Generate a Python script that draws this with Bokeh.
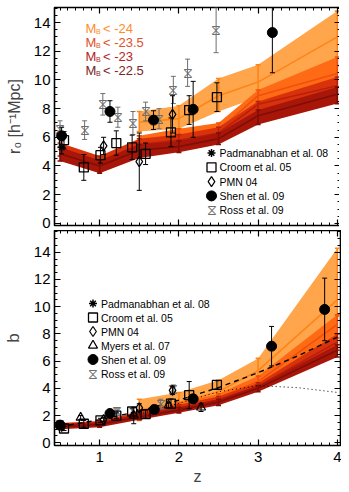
import numpy as np
from bokeh.plotting import figure
from bokeh.models import (Range1d, LinearAxis, Label, FixedTicker)
from bokeh.layouts import column
from bokeh.embed import file_html
from bokeh.resources import INLINE
from bokeh.core.properties import value

# ---------------- data : model bands (r0) ----------------
z_bright = [1.5, 2.0, 2.5, 3.0, 4.0]
z_faint = [0.5, 1.0, 1.5, 2.0, 2.5, 3.0, 4.0]

r0_m24_lo = [6.4, 6.6, 7.8, 8.8, 11.0]
r0_m24_mid = [7.05, 7.3, 8.9, 9.85, 13.0]
r0_m24_hi = [7.8, 8.2, 10.1, 11.05, 14.8]

r0_m235_lo = [5.2, 5.6, 6.0, 8.0, 9.5]
r0_m235_mid = [5.65, 6.1, 6.5, 8.9, 10.45]
r0_m235_hi = [6.1, 6.6, 7.0, 9.3, 11.6]

r0_m23_lo = [4.7, 3.75, 5.0, 5.35, 5.9, 7.6, 9.0]
r0_m23_mid = [5.2, 4.25, 5.5, 5.8, 6.3, 8.3, 9.6]
r0_m23_hi = [5.6, 4.7, 5.9, 6.2, 6.7, 8.5, 10.2]

r0_m225_lo = [4.35, 3.5, 4.55, 4.95, 5.5, 6.9, 8.35]
r0_m225_mid = [4.85, 4.0, 5.1, 5.35, 5.9, 7.5, 9.0]
r0_m225_hi = [5.3, 4.4, 5.5, 5.75, 6.3, 7.9, 9.5]

# ---------------- data : model bands (b) ----------------
b_m24_lo = [1.65, 2.5, 3.0, 4.5, 9.3]
b_m24_mid = [2.4, 2.95, 3.75, 5.3, 10.5]
b_m24_hi = [3.2, 3.7, 4.6, 6.2, 14.3]

b_m235_lo = [1.9, 2.4, 3.0, 4.1, 7.7]
b_m235_mid = [2.15, 2.7, 3.3, 4.5, 8.7]
b_m235_hi = [2.4, 2.95, 3.6, 4.9, 9.4]

b_m23_lo = [1.1, 1.3, 1.85, 2.3, 2.9, 3.9, 6.8]
b_m23_mid = [1.3, 1.45, 2.05, 2.55, 3.15, 4.15, 7.4]
b_m23_hi = [1.45, 1.6, 2.3, 2.8, 3.4, 4.4, 8.0]

b_m225_lo = [1.0, 1.15, 1.7, 2.2, 2.75, 3.75, 6.3]
b_m225_mid = [1.2, 1.35, 1.9, 2.4, 3.0, 4.0, 6.8]
b_m225_hi = [1.35, 1.5, 2.1, 2.6, 3.2, 4.2, 7.2]

# reference curves in the b panel
z_dash = [0.5, 1.0, 1.5, 2.0, 2.5, 3.0, 3.5, 4.0]
b_dash = [1.18, 1.69, 2.33, 3.13, 4.06, 5.15, 6.38, 7.76]
z_dot = [1.5, 2.0, 2.5, 3.0, 3.5, 4.0]
b_dot = [2.1, 2.9, 3.75, 4.2, 4.05, 3.7]

# ---------------- data : observations (r0) ----------------
pad_r_z = [0.52]; pad_r = [5.3]; pad_r_e = [0.45]
croom_r_z = [0.55, 0.80, 1.01, 1.21, 1.41, 1.58, 1.90, 2.13, 2.48]
croom_r = [5.8, 3.9, 4.75, 5.6, 5.3, 4.85, 6.35, 7.9, 8.8]
croom_r_e = [0.6, 0.9, 0.55, 0.85, 0.85, 0.75, 1.0, 1.0, 1.0]
pmn_r_z = [1.05, 1.50, 1.92]; pmn_r = [5.4, 4.3, 7.6]; pmn_r_e = [0.6, 2.0, 1.3]
shen_r_z = [0.52, 1.13, 1.68, 2.18, 3.18]
shen_r = [6.1, 7.8, 7.2, 7.95, 13.3]
shen_r_e = [0.6, 0.75, 0.65, 1.95, 2.8]
ross_r_z = [0.50, 0.81, 1.04, 1.23, 1.42, 1.58, 1.75, 1.93, 2.11, 2.47]
ross_r = [6.6, 6.5, 8.3, 7.4, 7.0, 7.8, 7.3, 9.3, 10.5, 13.5]
ross_r_e = [0.55, 0.65, 0.75, 0.7, 0.8, 0.65, 0.7, 0.95, 0.95, 1.6]

# ---------------- data : observations (b) ----------------
pad_b_z = [0.52]; pad_b = [1.1]; pad_b_e = [0.12]
croom_b_z = [0.55, 0.80, 1.01, 1.21, 1.41, 1.58, 1.90, 2.13, 2.48]
croom_b = [1.05, 1.4, 1.65, 2.0, 2.3, 2.1, 2.87, 3.5, 4.26]
croom_b_e = [0.15, 0.25, 0.15, 0.2, 0.2, 0.3, 0.35, 1.0, 0.3]
pmn_b_z = [1.05, 1.50, 1.92]; pmn_b = [1.7, 2.57, 3.85]; pmn_b_e = [0.15, 0.3, 0.3]
myers_b_z = [0.76, 1.43, 1.87, 2.28]; myers_b = [1.85, 2.0, 2.75, 2.6]
myers_b_e = [0.15, 0.6, 0.2, 0.3]
shen_b_z = [0.50, 1.13, 1.69, 2.18, 3.17, 3.84]
shen_b = [1.3, 2.15, 2.45, 3.23, 7.1, 9.8]
shen_b_e = [0.15, 0.15, 0.2, 0.3, 1.45, 2.3]
ross_b_z = [0.50, 1.22, 1.77, 1.93]; ross_b = [1.35, 2.3, 2.85, 3.95]
ross_b_e = [0.25, 0.2, 0.35, 0.3]

mag_labels = ["< -24", "< -23.5", "< -23", "< -22.5"]
legend_top = [("pad", "Padmanabhan et al. 08"), ("croom", "Croom et al. 05"),
              ("pmn", "PMN 04"), ("shen", "Shen et al. 09"), ("ross", "Ross et al. 09")]
legend_bot = [("pad", "Padmanabhan et al. 08"), ("croom", "Croom et al. 05"),
              ("pmn", "PMN 04"), ("myers", "Myers et al. 07"), ("shen", "Shen et al. 09"),
              ("ross", "Ross et al. 09")]

fills = ["#FFA64D", "#FF6A14", "#D8320C", "#A8160A"]
lines = ["#FF8418", "#EE5010", "#B8200A", "#7E0E06"]
txtcols = ["#FF8C2A", "#E0502A", "#B41E1E", "#7A2626"]

FONT = "Liberation Sans"
GRAY = "#6E6E6E"
FW = 286
XR = (0.43, 4.04)


def style_axis(ax, show_labels=True):
    ax.major_tick_in = 6
    ax.major_tick_out = 0
    ax.minor_tick_in = 3
    ax.minor_tick_out = 0
    ax.axis_line_color = None
    ax.major_tick_line_color = "black"
    ax.minor_tick_line_color = "black"
    ax.major_tick_line_width = 1.2
    ax.minor_tick_line_width = 1
    ax.major_label_text_font = FONT
    if show_labels:
        ax.major_label_text_color = "black"
        ax.major_label_text_font_size = "15px"
        ax.major_label_standoff = 4
    else:
        ax.major_label_text_color = None
        ax.major_label_text_font_size = "1px"
        ax.major_label_standoff = 0


def make_fig(yr, fh, bt, bb, xlabels):
    p = figure(frame_width=FW, frame_height=fh, x_range=Range1d(*XR),
               y_range=Range1d(*yr), min_border_left=48, min_border_right=1,
               min_border_top=bt, min_border_bottom=bb,
               x_axis_location="below", y_axis_location="left",
               output_backend="svg", toolbar_location=None)
    p.grid.visible = False
    p.outline_line_color = "black"
    p.outline_line_width = 1.6
    p.background_fill_color = "white"
    p.border_fill_color = "white"
    xt = FixedTicker(ticks=[1, 2, 3, 4],
                     minor_ticks=[round(0.5 + 0.1 * i, 2) for i in range(36)])
    yt = FixedTicker(ticks=list(range(0, 15, 2)),
                     minor_ticks=[0.5 * i for i in range(32)])
    bottom = p.below[0]
    left = p.left[0]
    bottom.ticker = xt
    left.ticker = yt
    top = LinearAxis(ticker=xt)
    right = LinearAxis(ticker=yt)
    p.add_layout(top, "above")
    p.add_layout(right, "right")
    style_axis(top, False)
    style_axis(right, False)
    style_axis(left, True)
    style_axis(bottom, xlabels)
    return p, bottom, left


def errbars(p, x, y, e, color, lw=1.0, cap=5):
    lo = [a - b for a, b in zip(y, e)]
    hi = [a + b for a, b in zip(y, e)]
    p.segment(x0=x, y0=lo, x1=x, y1=hi, line_color=color, line_width=lw)
    p.scatter(x=x, y=lo, marker="dash", size=cap, line_color=color, line_width=lw)
    p.scatter(x=x, y=hi, marker="dash", size=cap, line_color=color, line_width=lw)


def band(p, z, lo, mid, hi, k):
    p.varea(x=z, y1=lo, y2=hi, fill_color=fills[k], fill_alpha=1.0)
    p.line(z, mid, line_color=lines[k], line_width=1.6)
    p.segment(x0=z, y0=lo, x1=z, y1=hi, line_color=lines[k], line_width=1.6)
    p.scatter(x=z, y=lo, marker="dash", size=5, line_color=lines[k], line_width=1.6)
    p.scatter(x=z, y=hi, marker="dash", size=5, line_color=lines[k], line_width=1.6)


def symbol(p, key, z, y):
    if key == "pad":
        p.scatter(z, y, marker="asterisk", size=8, line_color="black", line_width=1.5)
    elif key == "croom":
        p.scatter(z, y, marker="square", size=9, fill_color=None, line_color="black", line_width=1.3)
    elif key == "pmn":
        p.scatter(z, y, marker="diamond", size=10, fill_color=None, line_color="black", line_width=1.2)
    elif key == "myers":
        p.scatter(z, y, marker="triangle", size=9, fill_color=None, line_color="black", line_width=1.2)
    elif key == "shen":
        p.scatter(z, y, marker="circle", size=10, fill_color="black", line_color="black")
    elif key == "ross":
        p.text(z, y, text=value("\u29d6"), text_font=value("DejaVu Sans"),
               text_font_size="14px", text_color=GRAY,
               text_align="center", text_baseline="middle")


def points(p, sets):
    for key, (z, y, e) in sets.items():
        errbars(p, z, y, e, GRAY if key == "ross" else "black")
        symbol(p, key, z, y)


def legend(p, entries, yr, fh, sx, sy0, pitch):
    # manual legend: symbol column at frame pixel sx, rows from sy0 (px above frame bottom)
    for i, (key, name) in enumerate(entries):
        sy = sy0 - pitch * i
        lx = XR[0] + sx * (XR[1] - XR[0]) / FW
        ly = yr[0] + sy * (yr[1] - yr[0]) / fh
        symbol(p, key, [lx], [ly])
        p.add_layout(Label(x=sx + 8, y=sy, x_units="screen", y_units="screen", text=name,
                           text_font=FONT, text_font_size="10.5px", text_color="black",
                           text_baseline="middle"))


# ---------------- top panel ----------------
YR1 = (-0.15, 15.05)
FH1 = 218
p1, b1, l1 = make_fig(YR1, FH1, 7, 5, False)
l1.axis_label = "r\u2080 [h\u207b\u00b9Mpc]"
l1.axis_label_text_font = FONT
l1.axis_label_text_font_style = "normal"
l1.axis_label_text_font_size = "16px"
l1.axis_label_standoff = 8

band(p1, z_bright, r0_m24_lo, r0_m24_mid, r0_m24_hi, 0)
band(p1, z_bright, r0_m235_lo, r0_m235_mid, r0_m235_hi, 1)
band(p1, z_faint, r0_m23_lo, r0_m23_mid, r0_m23_hi, 2)
band(p1, z_faint, r0_m225_lo, r0_m225_mid, r0_m225_hi, 3)

points(p1, {"ross": (ross_r_z, ross_r, ross_r_e),
            "pad": (pad_r_z, pad_r, pad_r_e),
            "croom": (croom_r_z, croom_r, croom_r_e),
            "pmn": (pmn_r_z, pmn_r, pmn_r_e),
            "shen": (shen_r_z, shen_r, shen_r_e)})
legend(p1, legend_top, YR1, FH1, 157, 72.5, 14.3)

for i, t in enumerate(mag_labels):
    yy = 197.5 - 14.2 * i
    p1.add_layout(Label(x=31, y=yy, x_units="screen", y_units="screen", text="M",
                        text_font=FONT, text_font_size="13px", text_color=txtcols[i],
                        text_baseline="middle"))
    p1.add_layout(Label(x=41.5, y=yy - 3, x_units="screen", y_units="screen", text="B",
                        text_font=FONT, text_font_size="7px", text_color=txtcols[i],
                        text_baseline="middle"))
    p1.add_layout(Label(x=48.5, y=yy, x_units="screen", y_units="screen", text=t,
                        text_font=FONT, text_font_size="13px", text_color=txtcols[i],
                        text_baseline="middle"))

# ---------------- bottom panel ----------------
YR2 = (-0.2, 15.6)
FH2 = 215
p2, b2, l2 = make_fig(YR2, FH2, 0, 46, True)
b2.major_label_standoff = 6
b2.axis_label = "z"
b2.axis_label_text_font = FONT
b2.axis_label_text_font_style = "normal"
b2.axis_label_text_font_size = "16px"
b2.axis_label_standoff = 3
l2.axis_label = "b"
l2.axis_label_text_font = FONT
l2.axis_label_text_font_style = "normal"
l2.axis_label_text_font_size = "17px"
l2.axis_label_standoff = 8

band(p2, z_bright, b_m24_lo, b_m24_mid, b_m24_hi, 0)
band(p2, z_bright, b_m235_lo, b_m235_mid, b_m235_hi, 1)
band(p2, z_faint, b_m23_lo, b_m23_mid, b_m23_hi, 2)
band(p2, z_faint, b_m225_lo, b_m225_mid, b_m225_hi, 3)
p2.line(z_dot, b_dot, line_color="black", line_width=1, line_dash="1 3")
p2.line(z_dash, b_dash, line_color="black", line_width=1.4, line_dash="5 4")

points(p2, {"ross": (ross_b_z, ross_b, ross_b_e),
            "pad": (pad_b_z, pad_b, pad_b_e),
            "croom": (croom_b_z, croom_b, croom_b_e),
            "pmn": (pmn_b_z, pmn_b, pmn_b_e),
            "myers": (myers_b_z, myers_b, myers_b_e),
            "shen": (shen_b_z, shen_b, shen_b_e)})
legend(p2, legend_bot, YR2, FH2, 38.5, 142, 14)

layout = column(p1, p2, spacing=0)
open("out.html", "w").write(file_html(layout, INLINE))
